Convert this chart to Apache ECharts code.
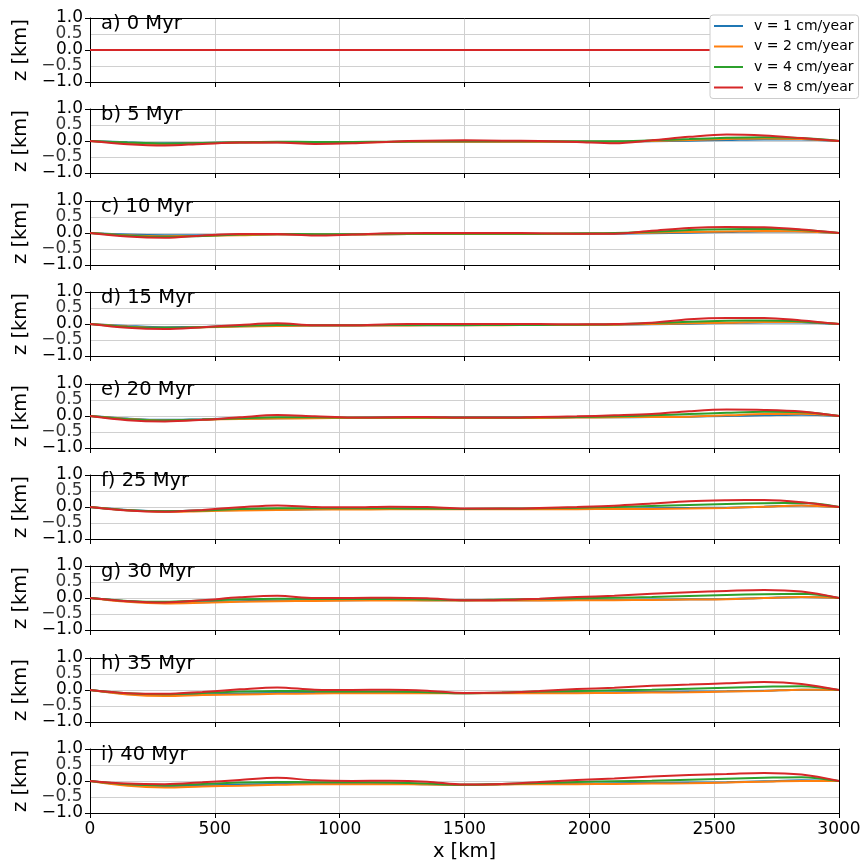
<!DOCTYPE html>
<html>
<head>
<meta charset="utf-8">
<script src="https://cdn.jsdelivr.net/npm/echarts@6/dist/echarts.min.js"></script>
<style>html,body{margin:0;padding:0;background:#fff}#c{width:866px;height:865px}</style>
</head>
<body>
<div id="c"></div>
<script>
const xKm = [0,150,300,450,600,750,900,1050,1200,1350,1500,1650,1800,1950,2100,2250,2400,2550,2700,2850,3000];
const timesMyr = [0,5,10,15,20,25,30,35,40];
const panelLetters = ['a','b','c','d','e','f','g','h','i'];
const seriesNames = ['v = 1 cm/year','v = 2 cm/year','v = 4 cm/year','v = 8 cm/year'];
const xTicks = [0,500,1000,1500,2000,2500,3000];
const yTicks = [-1.0,-0.5,0.0,0.5,1.0];
const yHalfTicks = [-0.5,0.5];

// v = 1 cm/year, one row per panel (a..i)
const v1 = [
 [0,0,0,0,0,0,0,0,0,0,0,0,0,0,0,0,0,0,0,0,0],
 [0,-0.04,-0.07,-0.06,-0.05,-0.04,-0.04,-0.03,-0.03,-0.02,-0.02,-0.02,-0.02,-0.02,-0.02,-0.01,0.01,0.03,0.05,0.05,0],
 [0,-0.05,-0.07,-0.07,-0.06,-0.05,-0.05,-0.04,-0.04,-0.03,-0.03,-0.03,-0.03,-0.03,-0.02,-0.01,0.01,0.03,0.05,0.05,0],
 [0,-0.06,-0.1,-0.09,-0.07,-0.06,-0.05,-0.05,-0.04,-0.04,-0.04,-0.03,-0.03,-0.03,-0.02,-0.01,0.01,0.03,0.05,0.05,0],
 [0,-0.08,-0.12,-0.1,-0.08,-0.07,-0.06,-0.06,-0.05,-0.05,-0.05,-0.05,-0.05,-0.04,-0.04,-0.03,-0.02,0,0.02,0.04,0],
 [0,-0.09,-0.13,-0.11,-0.09,-0.08,-0.07,-0.06,-0.06,-0.06,-0.06,-0.06,-0.06,-0.05,-0.05,-0.04,-0.03,-0.02,0.01,0.05,0],
 [0,-0.1,-0.15,-0.13,-0.1,-0.08,-0.07,-0.07,-0.06,-0.07,-0.07,-0.07,-0.07,-0.06,-0.06,-0.05,-0.04,-0.03,0,0.03,0],
 [0,-0.12,-0.16,-0.14,-0.11,-0.09,-0.08,-0.08,-0.08,-0.09,-0.1,-0.09,-0.08,-0.08,-0.07,-0.06,-0.05,-0.04,-0.02,0.01,0],
 [0,-0.12,-0.16,-0.14,-0.11,-0.09,-0.08,-0.08,-0.08,-0.1,-0.12,-0.1,-0.08,-0.08,-0.07,-0.06,-0.05,-0.04,-0.01,0.02,0]
];
// v = 2 cm/year
const v2 = [
 [0,0,0,0,0,0,0,0,0,0,0,0,0,0,0,0,0,0,0,0,0],
 [0,-0.06,-0.09,-0.07,-0.05,-0.04,-0.04,-0.04,-0.03,-0.02,-0.02,-0.02,-0.02,-0.02,-0.02,0,0.03,0.06,0.08,0.06,0],
 [0,-0.07,-0.1,-0.09,-0.07,-0.05,-0.05,-0.05,-0.04,-0.03,-0.03,-0.03,-0.03,-0.02,-0.01,0.01,0.03,0.05,0.06,0.05,0],
 [0,-0.08,-0.12,-0.1,-0.08,-0.06,-0.05,-0.05,-0.05,-0.04,-0.04,-0.04,-0.03,-0.03,-0.02,0,0.02,0.04,0.06,0.06,0],
 [0,-0.09,-0.14,-0.12,-0.09,-0.08,-0.07,-0.06,-0.06,-0.06,-0.06,-0.06,-0.06,-0.05,-0.04,-0.03,-0.02,0.02,0.06,0.07,0],
 [0,-0.1,-0.15,-0.13,-0.11,-0.09,-0.08,-0.08,-0.07,-0.07,-0.07,-0.07,-0.07,-0.07,-0.06,-0.06,-0.05,-0.03,0.01,0.05,0],
 [0,-0.12,-0.17,-0.15,-0.12,-0.1,-0.09,-0.08,-0.08,-0.08,-0.08,-0.08,-0.08,-0.07,-0.07,-0.06,-0.05,-0.04,0,0.03,0],
 [0,-0.14,-0.19,-0.16,-0.14,-0.12,-0.11,-0.1,-0.1,-0.1,-0.1,-0.1,-0.1,-0.1,-0.09,-0.08,-0.07,-0.05,-0.03,0.01,0],
 [0,-0.15,-0.2,-0.17,-0.15,-0.12,-0.1,-0.1,-0.1,-0.11,-0.12,-0.11,-0.1,-0.1,-0.09,-0.08,-0.07,-0.05,-0.02,0,0]
];
// v = 4 cm/year
const v4 = [
 [0,0,0,0,0,0,0,0,0,0,0,0,0,0,0,0,0,0,0,0,0],
 [0,-0.05,-0.08,-0.06,-0.04,-0.02,-0.03,-0.03,-0.02,-0.01,-0.01,-0.01,-0.01,-0.01,-0.01,0.02,0.06,0.1,0.12,0.09,0],
 [0,-0.08,-0.12,-0.09,-0.05,-0.03,-0.04,-0.04,-0.02,-0.02,-0.02,-0.02,-0.02,-0.01,0,0.04,0.09,0.12,0.13,0.09,0],
 [0,-0.09,-0.12,-0.1,-0.06,-0.03,-0.04,-0.04,-0.03,-0.03,-0.03,-0.03,-0.03,-0.02,-0.01,0.03,0.07,0.1,0.11,0.08,0],
 [0,-0.1,-0.14,-0.11,-0.07,-0.04,-0.04,-0.05,-0.05,-0.05,-0.05,-0.05,-0.04,-0.03,-0.01,0.02,0.06,0.1,0.13,0.12,0],
 [0,-0.1,-0.13,-0.11,-0.06,-0.04,-0.04,-0.04,-0.04,-0.05,-0.06,-0.05,-0.04,-0.02,0,0.03,0.06,0.09,0.12,0.13,0],
 [0,-0.09,-0.12,-0.08,-0.04,-0.02,-0.03,-0.03,-0.03,-0.05,-0.07,-0.05,-0.03,-0.01,0.01,0.03,0.06,0.09,0.12,0.13,0],
 [0,-0.1,-0.13,-0.09,-0.05,-0.03,-0.04,-0.05,-0.05,-0.07,-0.1,-0.08,-0.05,-0.03,-0.01,0.01,0.04,0.07,0.1,0.12,0],
 [0,-0.1,-0.13,-0.09,-0.05,-0.03,-0.04,-0.04,-0.05,-0.08,-0.12,-0.09,-0.06,-0.03,-0.01,0.01,0.04,0.07,0.1,0.12,0]
];
// v = 8 cm/year
const v8 = [
 [0,0,0,0,0,0,0,0,0,0,0,0,0,0,0,0,0,0,0,0,0],
 [0,-0.1,-0.14,-0.09,-0.05,-0.05,-0.09,-0.07,-0.02,0.01,0.02,0.01,0,-0.03,-0.07,0.02,0.13,0.2,0.17,0.09,0],
 [0,-0.11,-0.15,-0.08,-0.03,-0.03,-0.08,-0.05,-0.01,0,0,0,-0.01,-0.02,-0.02,0.07,0.16,0.19,0.18,0.11,0],
 [0,-0.12,-0.16,-0.1,-0.03,0.02,-0.04,-0.04,-0.01,0,0,0,0,-0.01,0,0.04,0.15,0.19,0.19,0.11,0],
 [0,-0.13,-0.17,-0.12,-0.04,0.03,-0.01,-0.05,-0.04,-0.03,-0.05,-0.05,-0.03,-0.01,0.02,0.06,0.15,0.2,0.19,0.14,0],
 [0,-0.11,-0.15,-0.09,-0.01,0.05,0,-0.01,0.01,0,-0.05,-0.05,-0.03,0,0.04,0.11,0.18,0.21,0.22,0.15,0],
 [0,-0.1,-0.14,-0.07,0.02,0.07,0,0,0.01,-0.01,-0.07,-0.06,-0.02,0.03,0.07,0.13,0.18,0.22,0.25,0.2,0],
 [0,-0.1,-0.12,-0.06,0.02,0.08,0.01,0,0.01,-0.02,-0.09,-0.08,-0.03,0.03,0.07,0.13,0.17,0.21,0.25,0.19,0],
 [0,-0.08,-0.1,-0.04,0.03,0.1,0.02,0,0.01,-0.02,-0.11,-0.09,-0.03,0.03,0.08,0.14,0.19,0.22,0.25,0.2,0]
];

const colors = ['#1f77b4','#ff7f0e','#2ca02c','#d62728'];
const allSeries = [v1, v2, v4, v8];
const FONT = 'DejaVu Sans';

const nPanels = timesMyr.length;
const gridLeft = 90, gridWidth = 749, firstTop = 18, panelH = 64, step = 91.4;

const grids = [], xAxes = [], yAxes = [], series = [], titles = [];
const fmtY = v => (v < 0 ? '\u2212' : '') + Math.abs(v).toFixed(1);
const fmtX = v => String(Math.round(v));
const gridLine = {show: true, showMinLine: false, showMaxLine: false, lineStyle: {color: '#d0d0d0', width: 1}};
const blackLine = {show: true, onZero: false, lineStyle: {color: '#000', width: 1}};
const tickFont = {color: '#000', fontFamily: FONT, fontSize: 17};

for (let p = 0; p < nPanels; p++) {
  const top = Math.round(firstTop + p * step);
  const last = p === nPanels - 1;
  grids.push({left: gridLeft, top: top, width: gridWidth, height: panelH, show: false, containLabel: false});
  xAxes.push({type: 'value', gridIndex: p, position: 'bottom', min: xTicks[0], max: xTicks[xTicks.length-1], interval: 500,
    axisLine: blackLine,
    axisTick: {show: true, inside: false, length: 5, lineStyle: {color: '#000'}},
    axisLabel: Object.assign({show: last, margin: 8, formatter: fmtX,
      showMinLabel: true, showMaxLabel: true, hideOverlap: false}, tickFont),
    splitLine: gridLine,
    name: last ? 'x [km]' : '', nameLocation: 'middle', nameGap: 29,
    nameTextStyle: {color: '#000', fontFamily: FONT, fontSize: 19.5}});
  yAxes.push({type: 'value', gridIndex: p, position: 'left', min: yTicks[0], max: yTicks[yTicks.length-1], interval: 0.5,
    axisLine: blackLine,
    axisTick: {show: true, inside: false, length: 5, lineStyle: {color: '#000'}},
    axisLabel: Object.assign({show: true, lineHeight: 12, margin: 7, formatter: fmtY,
      showMinLabel: true, showMaxLabel: true, hideOverlap: false}, tickFont),
    splitLine: gridLine,
    name: 'z [km]', nameLocation: 'middle', nameGap: 44, nameRotate: 90,
    nameTextStyle: {color: '#000', fontFamily: FONT, fontSize: 19.5}});
  titles.push({text: panelLetters[p] + ') ' + timesMyr[p] + ' Myr', left: 101, top: top - 4, padding: 0,
    textStyle: {color: '#000', fontFamily: FONT, fontSize: 19.5, fontWeight: 'normal'}});
  for (let s = 0; s < 4; s++) {
    const vals = allSeries[s][p];
    series.push({name: seriesNames[s], type: 'line', xAxisIndex: p, yAxisIndex: p,
      data: xKm.map((x, i) => [x, vals[i]]), smooth: 0.35, symbol: 'none',
      lineStyle: {color: colors[s], width: 2}, itemStyle: {color: colors[s]},
      animation: false, z: 2 + s * 0.01});
  }
  // ±0.5 tick labels (the axis hides them because they touch their neighbours)
  series.push({name: '_ticks' + p, type: 'scatter', xAxisIndex: p, yAxisIndex: p, silent: true,
    data: yHalfTicks.map(v => [xTicks[0], v]), symbolSize: 1, clip: false,
    itemStyle: {color: 'rgba(0,0,0,0)'},
    label: Object.assign({show: true, position: 'left', distance: 7, formatter: d => fmtY(d.value[1])}, tickFont),
    labelLayout: {hideOverlap: false}, animation: false, z: 3});
}
// frame: top and right spines
for (let p = 0; p < nPanels; p++) {
  xAxes.push({type: 'value', gridIndex: p, position: 'top', min: xTicks[0], max: xTicks[xTicks.length-1],
    axisLine: blackLine, axisTick: {show: false}, axisLabel: {show: false}, splitLine: {show: false}});
  yAxes.push({type: 'value', gridIndex: p, position: 'right', min: yTicks[0], max: yTicks[yTicks.length-1],
    axisLine: blackLine, axisTick: {show: false}, axisLabel: {show: false}, splitLine: {show: false}});
}

const chart = echarts.init(document.getElementById('c'), null, {renderer: 'canvas'});
chart.setOption({
  animation: false,
  backgroundColor: '#fff',
  title: titles,
  grid: grids, xAxis: xAxes, yAxis: yAxes, series: series,
  legend: {data: seriesNames, orient: 'vertical', left: 710, top: 15, icon: 'rect',
    itemWidth: 29, itemHeight: 2, itemGap: 6.5, padding: [4, 5, 4, 4],
    backgroundColor: '#fff', borderColor: '#cccccc', borderWidth: 1, borderRadius: 3,
    textStyle: {color: '#000', fontFamily: FONT, fontSize: 14, lineHeight: 14, padding: [0, 0, 0, 6]}, z: 10}
});
</script>
</body>
</html>
